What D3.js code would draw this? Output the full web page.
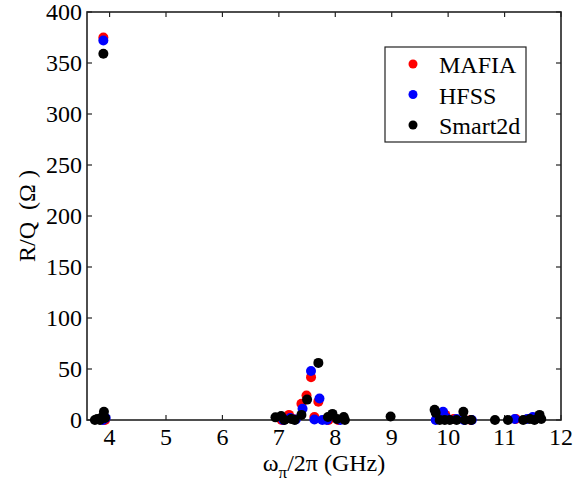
<!DOCTYPE html>
<html>
<head>
<meta charset="utf-8">
<script src="https://cdn.jsdelivr.net/npm/d3@7"></script>
<style>
  body { margin: 0; background: #fff; }
  svg text { font-family: "Liberation Serif", "Times New Roman", serif; fill: #000; }
</style>
</head>
<body>
<svg id="chart" width="588" height="485"></svg>
<script>
// R/Q vs frequency, three codes
var mafiaF = [3.89, 3.90, 3.92, 7.05, 7.18, 7.25, 7.40, 7.49, 7.57, 7.63, 7.70, 7.88, 8.05, 9.85, 9.95, 10.10, 10.40, 11.20, 11.50, 11.60];
var mafiaR = [375, 1, 0, 0, 5, 1, 16, 24, 42, 3, 18, 0, 0, 1, 5, 1, 0, 1, 2, 3];

var hfssF = [3.89, 3.88, 3.93, 7.08, 7.20, 7.30, 7.42, 7.57, 7.63, 7.72, 7.77, 7.85, 8.09, 9.78, 9.91, 9.97, 10.15, 10.28, 10.42, 11.18, 11.40, 11.50, 11.60];
var hfssR = [372, 0, 2, 0, 2, 0.5, 11, 48, 0.5, 21, 0, 0, 0, 0, 8, 2, 1, 0, 0, 1, 1, 3, 2];

var smartF = [3.89, 3.74, 3.78, 3.83, 3.87, 3.90, 3.92, 6.94, 7.04, 7.10, 7.22, 7.28, 7.40, 7.50, 7.70, 7.87, 7.95, 8.03, 8.15, 8.17, 8.98,
              9.76, 9.78, 9.85, 9.94, 10.03, 10.15, 10.27, 10.30, 10.41, 10.83, 11.06, 11.33, 11.45, 11.53, 11.62, 11.65];
var smartR = [359, 0, 1, 0, 3, 8, 2, 2.6, 4, 0, 1, 0, 5, 20, 56, 3, 6, 1, 3, 0, 3.5,
              10, 7, 0, 0, 0, 0, 8, 0, 0, 0, 0, 0, 1, 0, 5, 1];

var xTicks = [4, 5, 6, 7, 8, 9, 10, 11, 12];
var yTicks = [0, 50, 100, 150, 200, 250, 300, 350, 400];

var seriesNames = ['MAFIA', 'HFSS', 'Smart2d'];
var seriesColors = ['#ff0000', '#0000ff', '#000000'];

var svg = d3.select('#chart');
var plotL = 87, plotR = 561, plotT = 12, plotB = 420;

var x = d3.scaleLinear().domain([3.6, 12]).range([plotL, plotR]);
var y = d3.scaleLinear().domain([0, 400]).range([plotB, plotT]);

var tickLen = 5;
var axisColor = '#222';

// frame
svg.append('rect')
  .attr('x', plotL).attr('y', plotT)
  .attr('width', plotR - plotL).attr('height', plotB - plotT)
  .attr('fill', 'none').attr('stroke', axisColor).attr('stroke-width', 1.6);

// ticks on all four sides, pointing inward
var tk = svg.append('g').attr('stroke', axisColor).attr('stroke-width', 1.2);
xTicks.forEach(function(t) {
  tk.append('line').attr('x1', x(t)).attr('x2', x(t)).attr('y1', plotB).attr('y2', plotB - tickLen);
  tk.append('line').attr('x1', x(t)).attr('x2', x(t)).attr('y1', plotT).attr('y2', plotT + tickLen);
});
yTicks.forEach(function(t) {
  tk.append('line').attr('x1', plotL).attr('x2', plotL + tickLen).attr('y1', y(t)).attr('y2', y(t));
  tk.append('line').attr('x1', plotR).attr('x2', plotR - tickLen).attr('y1', y(t)).attr('y2', y(t));
});

svg.append('g').selectAll('text').data(xTicks).enter().append('text')
  .attr('x', function(d) { return x(d); })
  .attr('y', plotB + 25)
  .attr('text-anchor', 'middle')
  .style('font-size', '24px')
  .text(function(d) { return d; });

svg.append('g').selectAll('text').data(yTicks).enter().append('text')
  .attr('x', plotL - 5)
  .attr('y', function(d) { return y(d) + 8; })
  .attr('text-anchor', 'end')
  .style('font-size', '24px')
  .text(function(d) { return d; });

// axis labels
var xl = svg.append('text')
  .attr('x', (plotL + plotR) / 2)
  .attr('y', 471)
  .attr('text-anchor', 'middle')
  .style('font-size', '24px');
xl.append('tspan').text('ω');
xl.append('tspan').attr('dy', 7).style('font-size', '17px').text('π');
xl.append('tspan').attr('dy', -7).text('/2π (GHz)');

svg.append('text')
  .attr('transform', 'translate(35,' + ((plotT + plotB) / 2) + ') rotate(-90)')
  .attr('text-anchor', 'middle')
  .style('font-size', '24px')
  .text('R/Q\u00a0\u00a0(Ω\u00a0)');

// points, drawn in series order so Smart2d sits on top
function drawSeries(fs, rs, color) {
  svg.append('g').selectAll('circle').data(fs).enter().append('circle')
    .attr('cx', function(d) { return x(d); })
    .attr('cy', function(d, i) { return y(rs[i]); })
    .attr('r', 5)
    .attr('fill', color);
}
drawSeries(mafiaF, mafiaR, seriesColors[0]);
drawSeries(hfssF, hfssR, seriesColors[1]);
drawSeries(smartF, smartR, seriesColors[2]);

// legend
var lg = svg.append('g');
lg.append('rect')
  .attr('x', 385).attr('y', 47).attr('width', 141).attr('height', 95)
  .attr('fill', '#fff').attr('stroke', axisColor).attr('stroke-width', 1.2);
seriesNames.forEach(function(name, i) {
  var cy = 64 + i * 30.5;
  lg.append('circle').attr('cx', 413).attr('cy', cy).attr('r', 4.5).attr('fill', seriesColors[i]);
  lg.append('text').attr('x', 439).attr('y', cy + 9).style('font-size', '24px').text(name);
});
</script>
</body>
</html>
